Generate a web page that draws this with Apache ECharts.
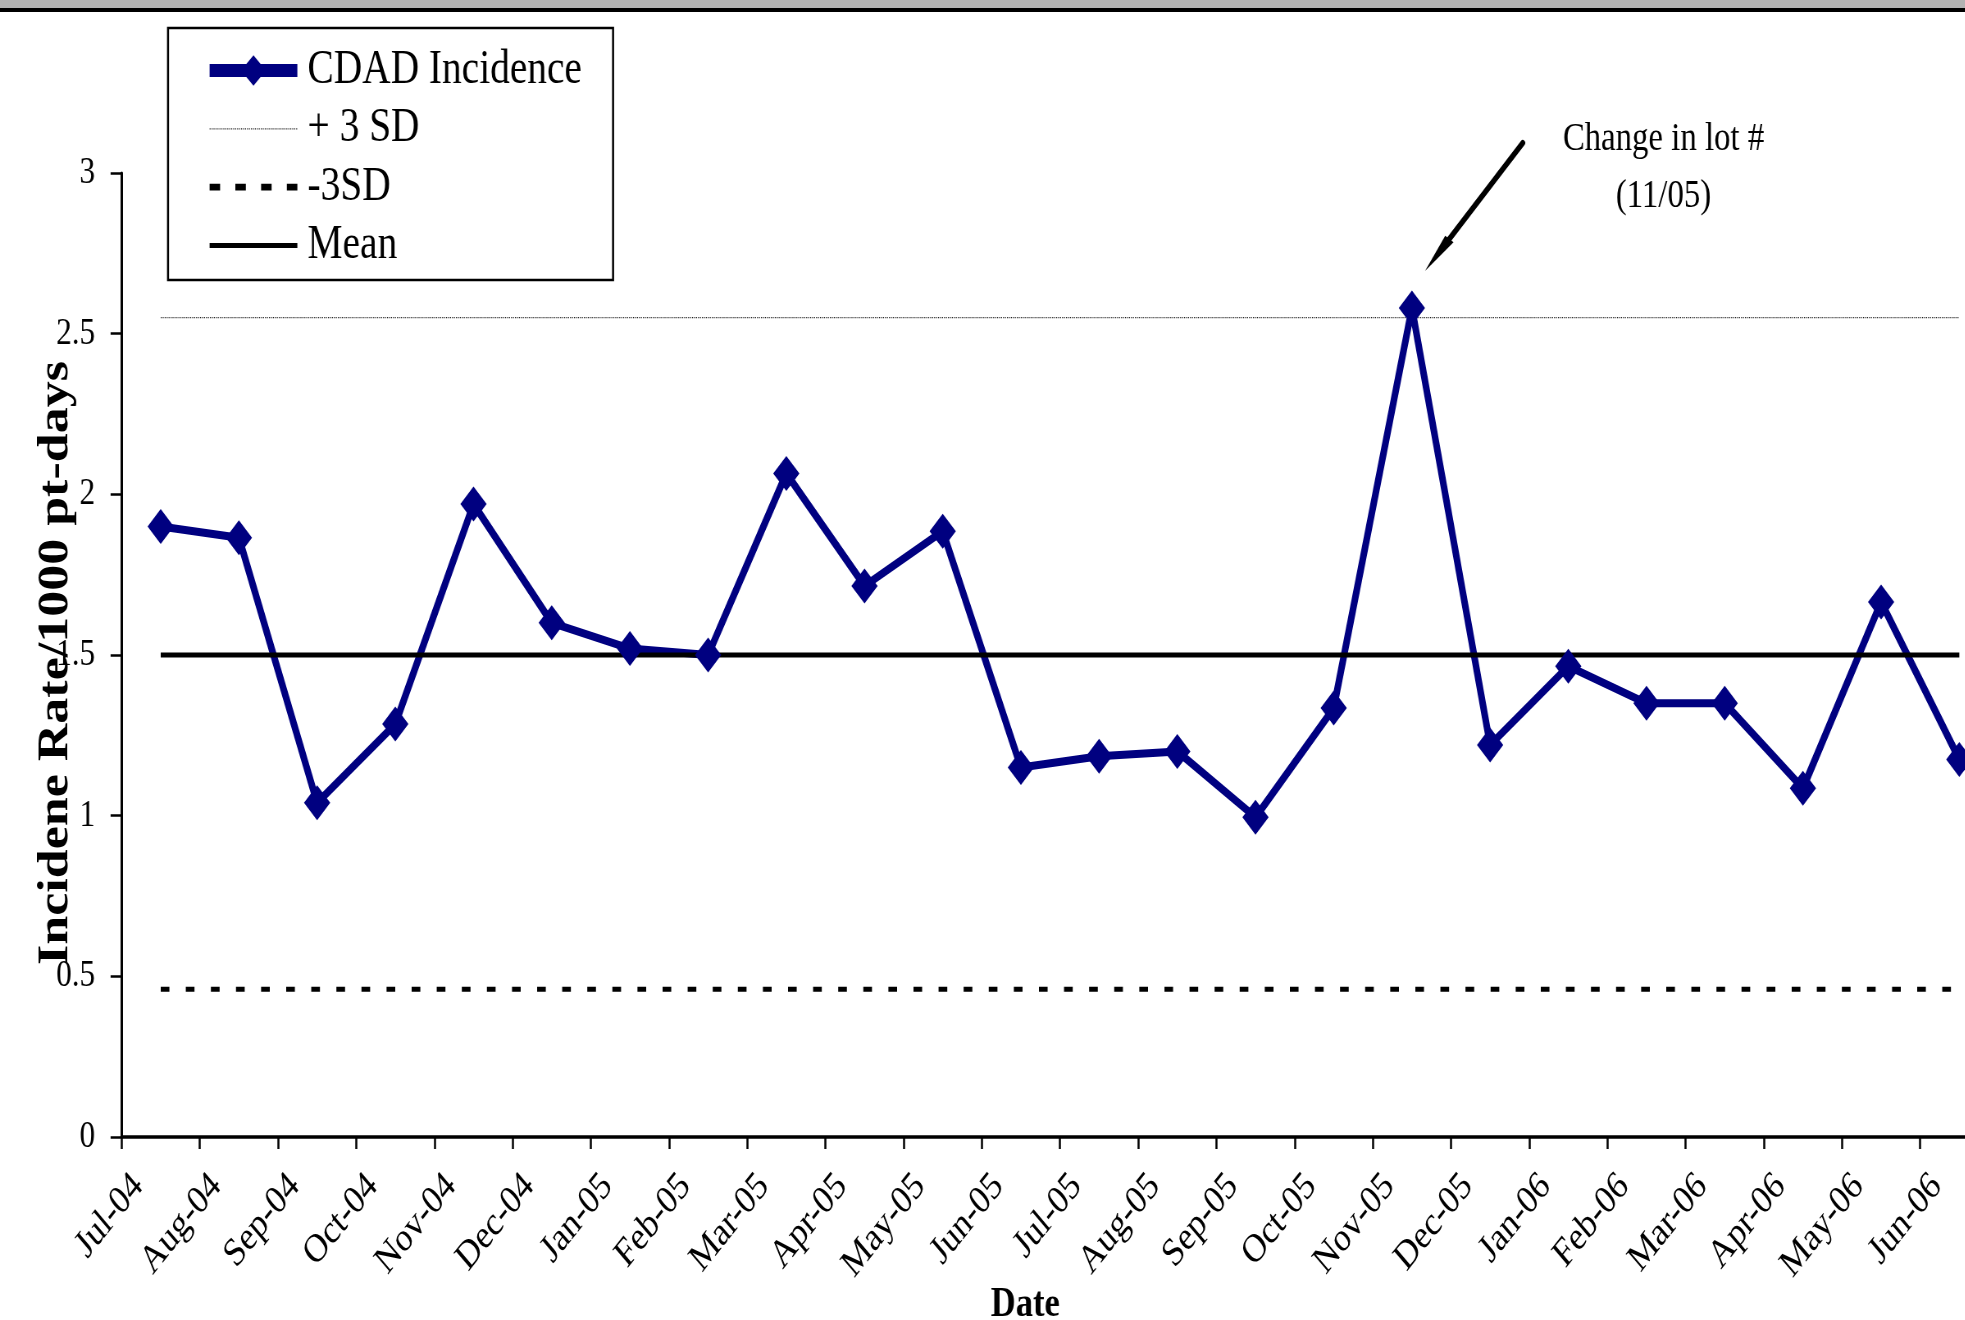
<!DOCTYPE html>
<html>
<head>
<meta charset="utf-8">
<title>CDAD Incidence</title>
<script src="https://cdn.jsdelivr.net/npm/echarts@6/dist/echarts.min.js"></script>
<style>
html, body { margin: 0; padding: 0; background: #fff; overflow: hidden; }
#chart { height: 1320px; transform-origin: 0 0; }
</style>
</head>
<body>
<div id="chart"></div>
<script>
// data
var months = ['Jul-04', 'Aug-04', 'Sep-04', 'Oct-04', 'Nov-04', 'Dec-04', 'Jan-05', 'Feb-05',
  'Mar-05', 'Apr-05', 'May-05', 'Jun-05', 'Jul-05', 'Aug-05', 'Sep-05', 'Oct-05',
  'Nov-05', 'Dec-05', 'Jan-06', 'Feb-06', 'Mar-06', 'Apr-06', 'May-06', 'Jun-06'];
var incidence = [1.90, 1.865, 1.04, 1.285, 1.97, 1.60, 1.52, 1.50,
  2.065, 1.715, 1.885, 1.15, 1.185, 1.20, 0.995, 1.335,
  2.58, 1.22, 1.465, 1.35, 1.35, 1.085, 1.665, 1.175];
var plus3SD = 2.55;
var minus3SD = 0.46;
var meanRate = 1.5;

// the original picture is squeezed sideways, so draw wide and scale x
var SX = 0.82;
var CW = 1965 / SX;
var axisX = 121.6 / SX;
var xMax = (1965 - 121.6) / 78.2;
var serif = '"Liberation Serif", "Times New Roman", serif';

var el = document.getElementById('chart');
el.style.width = CW + 'px';
el.style.transform = 'scaleX(' + SX + ')';

var tickIdx = months.map(function (m, i) { return i; });
function flat(v) {
  return [[0.5, v], [months.length - 0.5, v]];
}
var noMark = { color: 'rgba(0,0,0,0)', borderWidth: 0, opacity: 0 };

var option = {
  animation: false,
  backgroundColor: '#fff',
  grid: [
    { left: axisX, top: 173, width: CW - axisX, height: 964, outerBoundsMode: 'none' },
    { left: axisX + 20, top: 173, width: CW - axisX, height: 964, outerBoundsMode: 'none' }
  ],
  legend: {
    orient: 'vertical',
    left: 204.9,
    top: 28,
    padding: [18.5, 38, 10.5, 44.2],
    itemWidth: 107,
    itemHeight: 38,
    itemGap: 10.3,
    backgroundColor: '#fff',
    borderColor: '#000',
    borderWidth: 2.5,
    borderRadius: 0,
    selectedMode: false,
    textStyle: { fontFamily: serif, fontSize: 48, lineHeight: 48, color: '#000', padding: [0, 0, 0, 7.5] },
    data: [
      { name: 'CDAD Incidence', lineStyle: { color: '#000080', width: 13 }, itemStyle: { color: '#000080' } },
      { name: '+ 3 SD', lineStyle: { color: '#222', width: 1.2, type: 'dotted' }, itemStyle: noMark },
      { name: '-3SD', lineStyle: { color: '#000', width: 6.7, type: [12.8, 18.6] }, itemStyle: noMark },
      { name: 'Mean', lineStyle: { color: '#000', width: 5 }, itemStyle: noMark }
    ]
  },
  xAxis: [
    {
      type: 'value', gridIndex: 0, min: 0, max: xMax, interval: 1,
      axisLine: { lineStyle: { color: '#000', width: 3.5 } },
      axisTick: { length: 12, lineStyle: { color: '#000', width: 2.5 }, customValues: tickIdx },
      axisLabel: { show: false },
      splitLine: { show: false },
      name: 'Date',
      nameLocation: 'middle',
      nameGap: 147,
      nameMoveOverlap: false,
      nameTextStyle: { fontFamily: serif, fontSize: 42, fontWeight: 'bold', color: '#000', padding: [0, 44, 0, 0] }
    },
    {
      type: 'value', gridIndex: 1, min: 0, max: xMax, interval: 1,
      axisLine: { show: false },
      axisTick: { show: false },
      splitLine: { show: false },
      axisLabel: {
        rotate: 46, margin: 43, fontFamily: serif, fontSize: 40, color: '#000',
        customValues: tickIdx,
        formatter: function (v) { return Number.isInteger(v) && months[v] ? months[v] : ''; }
      }
    }
  ],
  yAxis: [
    {
      type: 'value', gridIndex: 0, min: 0, max: 3, interval: 0.5,
      axisLine: { show: true, lineStyle: { color: '#000', width: 3 } },
      axisTick: { show: true, length: 13.4, lineStyle: { color: '#000', width: 2.5 } },
      axisLabel: { margin: 32.4, fontFamily: serif, fontSize: 38, color: '#000' },
      splitLine: { show: false },
      name: 'Incidene Rate/1000 pt-days',
      nameLocation: 'middle',
      nameRotate: 90,
      nameGap: 54,
      nameMoveOverlap: false,
      nameTextStyle: { fontFamily: serif, fontSize: 52, fontWeight: 'bold', color: '#000', padding: [0, 16, 0, 0] }
    },
    { type: 'value', gridIndex: 1, min: 0, max: 3, show: false }
  ],
  series: [
    {
      name: 'CDAD Incidence', type: 'line',
      data: incidence.map(function (v, i) { return [i + 0.5, v]; }),
      symbol: 'diamond', symbolSize: [32, 35], showAllSymbol: true,
      itemStyle: { color: '#000080' },
      lineStyle: { color: '#000080', width: 8 },
      emphasis: { disabled: true }
    },
    {
      name: '+ 3 SD', type: 'line', data: flat(plus3SD), symbol: 'none',
      itemStyle: noMark,
      lineStyle: { color: '#222', width: 1.2, type: 'dotted' },
      emphasis: { disabled: true }
    },
    {
      name: '-3SD', type: 'line', data: flat(minus3SD), symbol: 'none',
      itemStyle: noMark,
      lineStyle: { color: '#000', width: 5, type: [10.6, 20], cap: 'butt' },
      emphasis: { disabled: true }
    },
    {
      name: 'Mean', type: 'line', data: flat(meanRate), symbol: 'none',
      itemStyle: noMark,
      lineStyle: { color: '#000', width: 5 },
      emphasis: { disabled: true }
    }
  ],
  graphic: [
    { type: 'rect', shape: { x: 0, y: 0, width: CW, height: 8 }, style: { fill: '#b3b3b3' }, silent: true },
    { type: 'rect', shape: { x: 0, y: 8, width: CW, height: 4 }, style: { fill: '#000' }, silent: true },
    {
      type: 'text', x: 1663.5 / SX, y: 168, silent: true,
      style: {
        text: 'Change in lot #\n(11/05)', fontFamily: serif, fontSize: 40, lineHeight: 57,
        fill: '#000', align: 'center', verticalAlign: 'middle'
      }
    },
    {
      type: 'line', silent: true,
      shape: { x1: 1522.7 / SX, y1: 143, x2: 1449.3 / SX, y2: 239 },
      style: { stroke: '#000', lineWidth: 6, lineCap: 'round' }
    },
    {
      type: 'polygon', silent: true,
      shape: { points: [[1425 / SX, 271], [1453.5 / SX, 242.2], [1445.2 / SX, 235.8]] },
      style: { fill: '#000' }
    }
  ]
};

var chart = echarts.init(el, null, { renderer: 'canvas' });
chart.setOption(option);
</script>
</body>
</html>
